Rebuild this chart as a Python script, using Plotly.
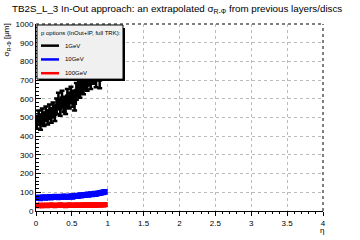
import plotly.graph_objects as go

eta = [0.0125 + 0.025 * i for i in range(39)]
eta_err = [0.0125] * 39

sig_1gev = [475, 500, 470, 510, 490, 520, 500, 530, 510, 540, 520, 560, 590, 550, 600,
            570, 560, 610, 590, 620, 600, 580, 640, 660, 650, 680, 670, 700, 690, 720,
            700, 730, 740, 710, 750, 705, 760, 770, 780]
err_1gev = [35, 37, 35, 38, 36, 39, 37, 40, 38, 40, 39, 41, 43, 40, 43,
            41, 41, 43, 42, 44, 43, 42, 45, 46, 45, 47, 46, 48, 47, 49,
            48, 49, 50, 48, 51, 48, 51, 52, 53]
sig_10gev = [70, 72, 68, 72, 74, 70, 73, 75, 72, 74, 76, 75, 73, 77, 75, 78, 76, 74, 77, 79,
             76, 80, 82, 80, 84, 83, 86, 85, 88, 87, 90, 89, 92, 91, 94, 96, 98, 100, 102]
err_10gev = [9] * 39
sig_100gev = [30, 29, 31, 28, 30, 31, 29, 30, 32, 30, 29, 31, 30, 32, 31, 30, 29, 31, 32, 30,
              31, 30, 32, 31, 30, 32, 31, 33, 31, 32, 33, 32, 31, 33, 32, 33, 34, 33, 34]
err_100gev = [7] * 39

series = [("1GeV", sig_1gev, err_1gev, "#000000"),
          ("10GeV", sig_10gev, err_10gev, "#0000ff"),
          ("100GeV", sig_100gev, err_100gev, "#ff0000")]

x_ticks = [0, 0.5, 1, 1.5, 2, 2.5, 3, 3.5, 4]
x_ticklabels = ["0", "0.5", "1", "1.5", "2", "2.5", "3", "3.5", "4"]
y_ticks = [0, 100, 200, 300, 400, 500, 600, 700, 800, 900, 1000]

fig = go.Figure()
for name, y, e, c in series:
    fig.add_trace(go.Scatter(
        x=eta, y=y, mode="markers", name=name, showlegend=False,
        marker=dict(color=c, size=5, symbol="square"),
        error_y=dict(type="data", array=e, color=c, thickness=2.5, width=2.5),
        error_x=dict(type="data", array=eta_err, color=c, thickness=3, width=0),
    ))

L, R, T, B = 36, 323, 24, 214
W, H = R - L, B - T
def px(x):
    return (x - L) / W
def py(y):
    return (B - y) / H

fig.update_layout(
    width=360, height=240,
    margin=dict(l=L, r=360 - R, t=T, b=240 - B),
    paper_bgcolor="white", plot_bgcolor="white",
    font=dict(family="Liberation Sans, Arial", size=8, color="black"),
    xaxis=dict(range=[0, 4], tickvals=x_ticks, ticktext=x_ticklabels,
               showgrid=True, gridcolor="#bbbbbb", griddash="dot", gridwidth=1,
               showline=True, linecolor="black", linewidth=1,
               ticks="outside", ticklen=4, tickcolor="black", ticklabelstandoff=0,
               minor=dict(dtick=0.1, ticks="outside", ticklen=2, tickcolor="black"),
               zeroline=False, tickfont=dict(size=8)),
    yaxis=dict(range=[0, 1000], tickvals=y_ticks,
               showgrid=True, gridcolor="#bbbbbb", griddash="dot", gridwidth=1,
               showline=True, linecolor="black", linewidth=1,
               ticks="inside", ticklen=5, tickcolor="black",
               minor=dict(dtick=20, ticks="inside", ticklen=3, tickcolor="black"),
               zeroline=False, tickfont=dict(size=8)),
)

shapes = [
    dict(type="line", xref="paper", yref="paper", x0=0, x1=1, y0=1, y1=1,
         line=dict(color="black", width=1, dash="dot")),
    dict(type="line", xref="paper", yref="paper", x0=1, x1=1, y0=0, y1=1,
         line=dict(color="black", width=1, dash="dot")),
    # legend shadow
    dict(type="rect", xref="paper", yref="paper", x0=px(39), x1=px(125), y0=py(82), y1=py(28),
         fillcolor="black", line=dict(width=0)),
    dict(type="rect", xref="paper", yref="paper", x0=px(37), x1=px(123), y0=py(80), y1=py(25),
         fillcolor="#f0f0f0", line=dict(color="black", width=1)),
]
ann = [
    dict(text="TB2S_L_3 In-Out approach: an extrapolated σ<sub>R-Φ</sub> from previous layers/discs",
         xref="paper", yref="paper", x=px(10), y=py(9), xanchor="left", yanchor="middle",
         showarrow=False, font=dict(size=9.8)),
    dict(text="σ<sub>R-Φ</sub> [μm]", xref="paper", yref="paper", x=px(7), y=py(22),
         xanchor="center", yanchor="top", textangle=-90, showarrow=False, font=dict(size=8)),
    dict(text="η", xref="paper", yref="paper", x=px(322), y=py(234),
         xanchor="center", yanchor="middle", showarrow=False, font=dict(size=8)),
    dict(text="p options (InOut+IP, full TRK):", xref="paper", yref="paper", x=px(39), y=py(33),
         xanchor="left", yanchor="middle", showarrow=False, font=dict(size=6)),
]
for i, (name, y, e, c) in enumerate(series):
    yy = py(46 + 14 * i)
    shapes.append(dict(type="line", xref="paper", yref="paper", x0=px(41), x1=px(59), y0=yy, y1=yy,
                       line=dict(color=c, width=2.5)))
    ann.append(dict(text=name, xref="paper", yref="paper", x=px(63), y=yy,
                    xanchor="left", yanchor="middle", showarrow=False, font=dict(size=6)))

fig.update_layout(shapes=shapes, annotations=ann)
fig.write_html("out.html")
